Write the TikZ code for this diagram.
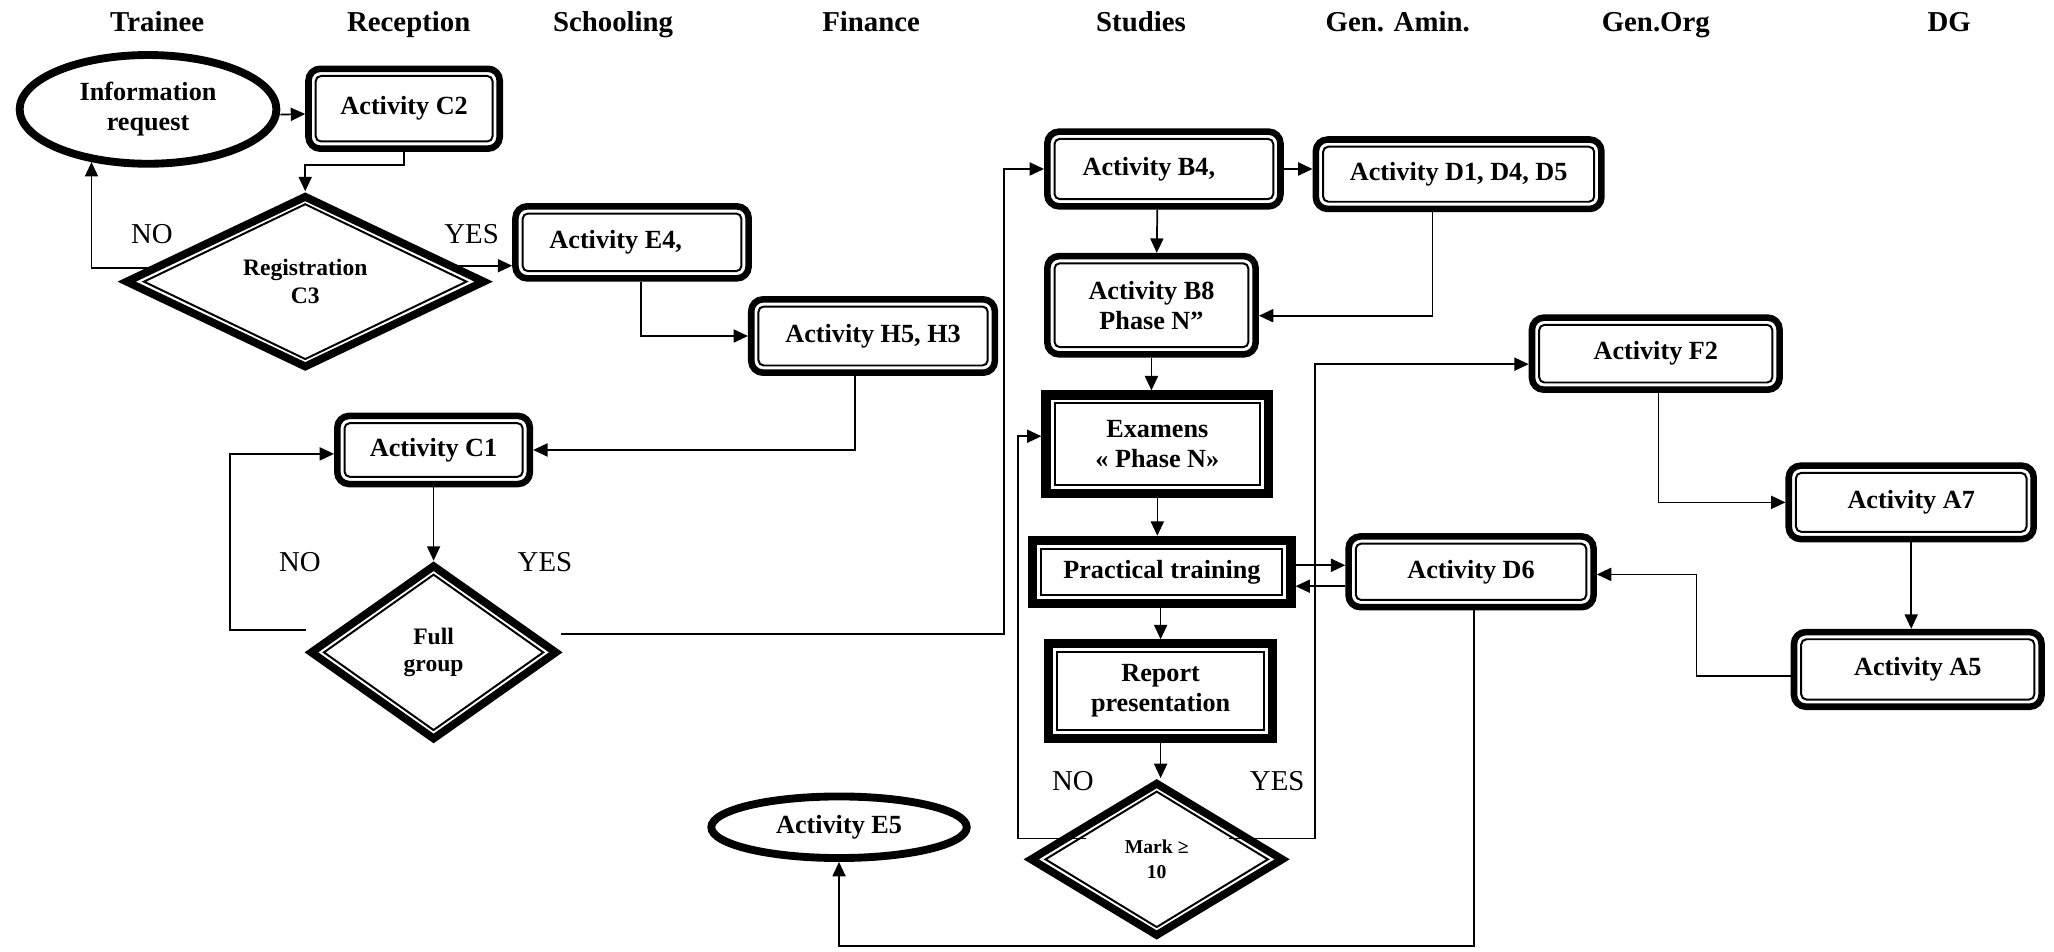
\documentclass[tikz,border=0pt]{standalone}
\usepackage{fontspec}
\setmainfont{Liberation Serif}
\usetikzlibrary{shapes.geometric,arrows.meta}

% font sizes for the different kinds of text
\newcommand\fbody{\fontsize{20}{23}\selectfont\bfseries}
\newcommand\fhead{\fontsize{22}{24}\selectfont\bfseries}
\newcommand\flab{\fontsize{22}{24}\selectfont}
\newcommand\fdia{\fontsize{18}{21}\selectfont\bfseries}
\newcommand\fmark{\fontsize{15}{19}\selectfont\bfseries}

% thin inner frame of a box: node, inset (pt), corner radius
\newcommand\innerbox[3]{\draw[inline,rounded corners=#3] ([shift={(#2pt,-#2pt)}]#1.north west) rectangle ([shift={(-#2pt,#2pt)}]#1.south east);}
% thin inner frame of a decision diamond: node, half width, half height
\newcommand\innerdia[3]{\draw[inline] ([shift={(0,-#3)}]#1.center) -- ([shift={(#2,0)}]#1.center) -- ([shift={(0,#3)}]#1.center) -- ([shift={(-#2,0)}]#1.center) -- cycle;}

\tikzset{
  rbox/.style={draw, rectangle, rounded corners=9pt, line width=5pt, inner sep=0pt, font=\fbody, align=center},
  sbox/.style={draw, rectangle, line width=7pt, inner sep=0pt, font=\fbody, align=center},
  dia/.style={draw, diamond, line width=6pt, inner sep=0pt, font=\fdia, align=center},
  oval/.style={draw, ellipse, line width=6pt, inner sep=0pt, font=\fbody, align=center},
  inline/.style={line width=1.5pt},
  conn/.style={line width=1.3pt},
  arr/.style={conn, -{Triangle[length=11pt,width=10pt]}},
  lab/.style={font=\flab},
  head/.style={font=\fhead, anchor=base}
}

\begin{document}
\begin{tikzpicture}[x=1pt,y=-1pt]
\fill[white] (0,0) rectangle (1568,726);
\useasboundingbox (0,0) rectangle (1568,726);

% column headings
\node[head] (hTrainee)   at (120,24)  {Trainee};
\node[head] (hReception) at (312,24)  {Reception};
\node[head] (hSchooling) at (468,24)  {Schooling};
\node[head] (hFinance)   at (665,24)  {Finance};
\node[head] (hStudies)   at (871,24)  {Studies};
\node[head] (hGenAmin)   at (1067,24) {Gen. Amin.};
\node[head] (hGenOrg)    at (1264,24) {Gen.Org};
\node[head] (hDG)        at (1488,24) {DG};

% process steps
\node[oval, minimum width=196pt, minimum height=83pt] (info) at (113,83.5) {Information\\request};
\node[rbox, minimum width=146pt, minimum height=61pt] (c2) at (308.5,83) {Activity C2};
\node[dia, minimum width=275pt, minimum height=132pt] (reg) at (233,215) {Registration\\C3};
\node[rbox, minimum width=178pt, minimum height=55pt] (e4) at (482.5,185) {Activity E4,\hspace*{25pt}};
\node[rbox, minimum width=186pt, minimum height=56pt] (h5) at (666.5,256.5) {Activity H5, H3};
\node[rbox, minimum width=147pt, minimum height=52pt] (c1) at (331,343.5) {Activity C1};
\node[dia, minimum width=189pt, minimum height=134pt] (fg) at (331,498) {Full\\group};
\node[rbox, minimum width=178pt, minimum height=57pt] (b4) at (888.5,129) {Activity B4,\hspace*{23pt}};
\node[rbox, minimum width=218pt, minimum height=53pt] (d1) at (1113.5,133) {Activity D1, D4, D5};
\node[rbox, minimum width=159pt, minimum height=75pt] (b8) at (879,233) {Activity B8\\Phase N”};
\node[rbox, minimum width=189pt, minimum height=55pt] (f2) at (1264,270) {Activity F2};
\node[sbox, minimum width=170pt, minimum height=75pt] (ex) at (883.5,339) {Examens\\« Phase N»};
\node[rbox, minimum width=187pt, minimum height=56pt] (a7) at (1459,383.5) {Activity A7};
\node[sbox, minimum width=197pt, minimum height=48pt] (pt) at (887,436.5) {Practical training};
\node[rbox, minimum width=187pt, minimum height=54pt] (d6) at (1123,436.5) {Activity D6};
\node[rbox, minimum width=189pt, minimum height=57pt] (a5) at (1464,511) {Activity A5};
\node[sbox, minimum width=171pt, minimum height=72pt] (rp) at (886,527.5) {Report\\presentation};
\node[dia, font=\fmark, minimum width=194pt, minimum height=118pt] (mk) at (883,656) {Mark ≥\\10};
\node[oval, minimum width=195pt, minimum height=47pt] (e5) at (640.5,631.5) {Activity E5};

% inner frames
\foreach \n in {c2,e4,h5,c1,b4,d1,b8,f2,a7,d6,a5} {\innerbox{\n}{8}{4pt}}
\foreach \n in {ex,pt,rp} {\innerbox{\n}{10}{0pt}}
\innerdia{reg}{123.1}{59.1}
\innerdia{fg}{83.7}{59.3}
\innerdia{mk}{84.9}{51.7}

% decision labels
\node[lab] (regNo)  at (116,179) {NO};
\node[lab] (regYes) at (360,179) {YES};
\node[lab] (fgNo)   at (229,429) {NO};
\node[lab] (fgYes)  at (416,429) {YES};
\node[lab] (mkNo)   at (819,596) {NO};
\node[lab] (mkYes)  at (975,596) {YES};

% connectors
\draw[arr] ([yshift=-4pt]info.east) -- ([yshift=-4pt]c2.west);
\draw[arr] (c2.south) -- ++(0,10) -| (reg.north);
\draw[arr] (reg.175) -| (info.223);
\draw[arr] (reg.6) -- (reg.6 -| e4.west);
\draw[arr] ([xshift=7pt]e4.south) |- (h5.west);
\draw[arr] ([xshift=-14pt]h5.south) |- (c1.east);
\draw[arr] (c1.south) -- (fg.north);
\draw[arr] ([yshift=17pt]fg.west) -- ++(-58,0) |- ([yshift=-3pt]c1.west);
\draw[arr] ([yshift=14pt]fg.east) -- ++(338,0) |- (b4.west);
\draw[arr] (b4.east) -- (b4.east -| d1.west);
\draw[arr] ([xshift=-5pt]b4.south) -- ([xshift=4pt]b8.north);
\draw[arr] ([xshift=-20pt]d1.south) |- ([yshift=-8pt]b8.east);
\draw[arr] (b8.south) -- (b8.south |- ex.north);
\draw[arr] (ex.south) -- (ex.south |- pt.north);
\draw[arr] (rp.north |- pt.south) -- (rp.north);
\draw[arr] (rp.south) -- (rp.south |- mk.north);
\draw[arr] ([yshift=5pt]pt.east) -- ([yshift=5pt]d6.west);
\draw[arr] ([yshift=-11pt]d6.west) -- ([yshift=-11pt]pt.east);
\draw[arr] ([shift={(46,-16)}]mk.west) -- ++(-52,0) |- ([yshift=6pt]ex.west);
\draw[arr] ([shift={(-45,-16)}]mk.east) -- ++(66,0) |- ([yshift=-8pt]f2.west);
\draw[arr] ([xshift=2pt]f2.south) |- (a7.west);
\draw[arr] (a7.south) -- (a7.south |- a5.north);
\draw[arr] ([yshift=-5pt]a5.west) -- ++(-72,0) |- ([yshift=-2pt]d6.east);
\draw[arr] ([xshift=2pt]d6.south) -- ++(0,256) -| (e5.south);
\end{tikzpicture}
\end{document}
